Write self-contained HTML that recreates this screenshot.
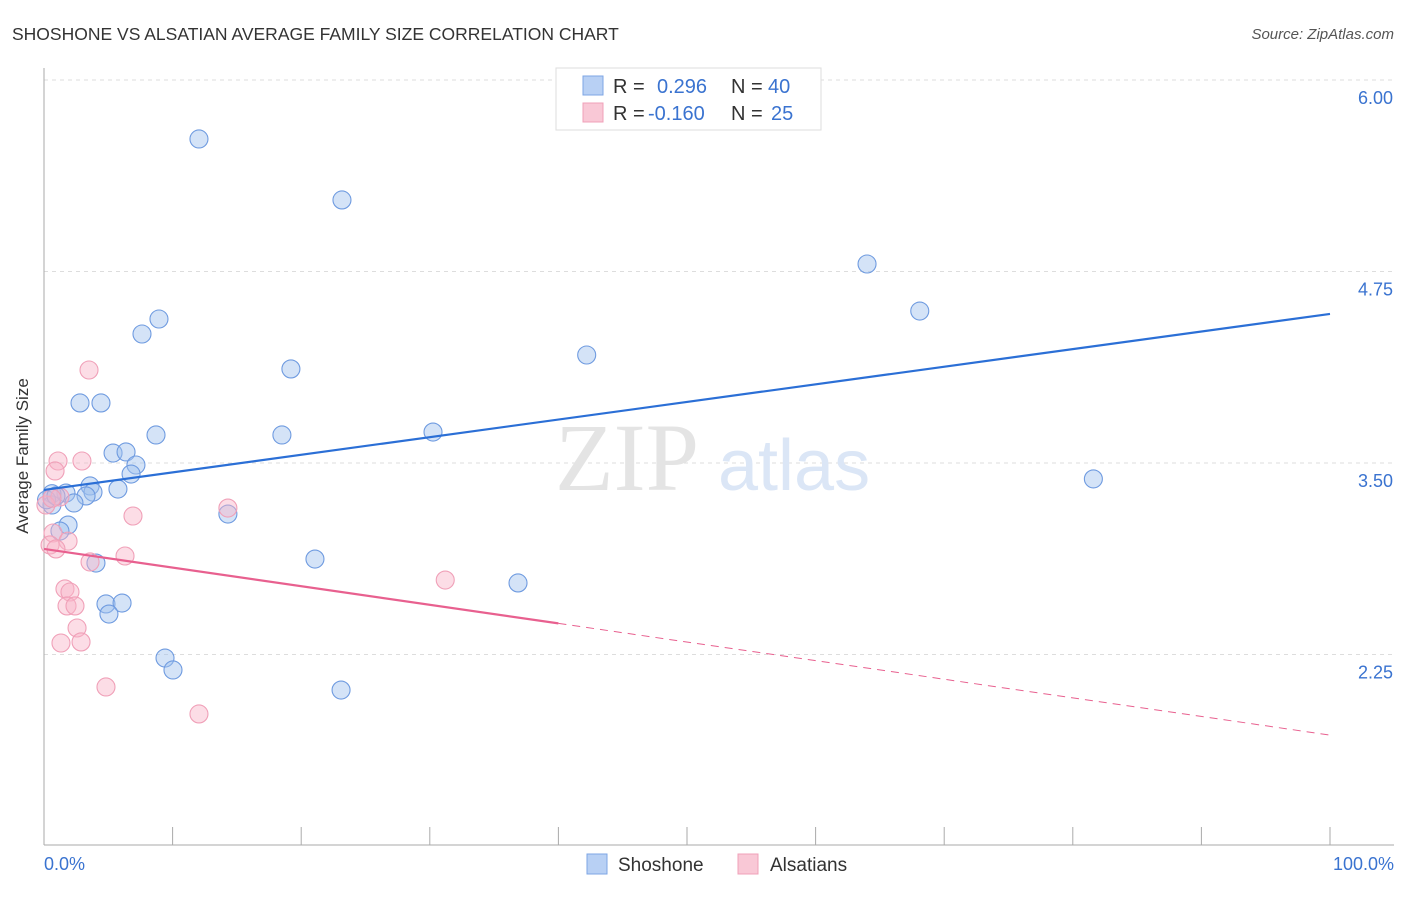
<!DOCTYPE html>
<html><head><meta charset="utf-8"><style>
body{margin:0;background:#fff;font-family:"Liberation Sans",sans-serif}
</style></head><body>
<svg width="1406" height="892" xmlns="http://www.w3.org/2000/svg" font-family="Liberation Sans, sans-serif">
<text x="12" y="40" font-size="17.5" fill="#333">SHOSHONE VS ALSATIAN AVERAGE FAMILY SIZE CORRELATION CHART</text>
<text x="1394" y="39" font-size="15" fill="#555" text-anchor="end" font-style="italic">Source: ZipAtlas.com</text>
<g id="grid"></g>
<text x="555" y="490" font-size="96" fill="#e4e4e4" font-family="Liberation Serif, serif">ZIP</text>
<text x="718" y="490" font-size="72" fill="#dbe6f6">atlas</text>
<line x1="44" y1="68" x2="44" y2="845" stroke="#aaa"/>
<line x1="44" y1="845" x2="1394" y2="845" stroke="#aaa"/>
<g id="ticks"></g>
<g id="ylabels"></g>
<text x="28" y="456" font-size="17" fill="#333" text-anchor="middle" transform="rotate(-90 28 456)">Average Family Size</text>
<text x="44" y="870" font-size="18" fill="#3a73d0">0.0%</text>
<text x="1394" y="870" font-size="18" fill="#3a73d0" text-anchor="end">100.0%</text>
<g id="pts"></g>
<g id="lines"></g>
<g>
<rect x="556" y="68" width="265" height="62" fill="#fff" stroke="#ddd"/>
<rect x="583" y="76" width="20" height="19" fill="#b8d0f4" stroke="#7ea6e4"/>
<rect x="583" y="103" width="20" height="19" fill="#f9c8d6" stroke="#f0a0b8"/>
<g font-size="20">
<text x="613" y="93" fill="#333">R =</text>
<text x="657" y="93" fill="#3a73d0">0.296</text>
<text x="731" y="93" fill="#333">N =</text>
<text x="768" y="93" fill="#3a73d0">40</text>
<text x="613" y="120" fill="#333">R =</text>
<text x="648" y="120" fill="#3a73d0">-0.160</text>
<text x="731" y="120" fill="#333">N =</text>
<text x="771" y="120" fill="#3a73d0">25</text>
</g>
</g>
<g>
<rect x="587" y="854" width="20" height="20" fill="#b8d0f4" stroke="#7ea6e4"/>
<text x="618" y="871" font-size="19" fill="#333">Shoshone</text>
<rect x="738" y="854" width="20" height="20" fill="#f9c8d6" stroke="#f0a0b8"/>
<text x="770" y="871" font-size="19" fill="#333">Alsatians</text>
</g>
</svg>
<script>
const yTicks=[6.00,4.75,3.50,2.25];
const yTickLabels=["6.00","4.75","3.50","2.25"];
const shoX=[12.05,23.17,64.0,68.1,8.94,7.62,42.2,19.2,2.8,4.43,8.71,18.5,30.25,5.37,6.38,7.15,6.77,81.6,3.58,5.75,3.81,1.71,0.62,3.27,2.33,0.62,14.3,1.87,1.24,4.04,21.07,36.86,4.82,6.07,5.05,9.41,10.03,23.1,0.2,0.93];
const shoY=[5.615,5.217,4.799,4.492,4.44,4.342,4.205,4.114,3.892,3.892,3.683,3.683,3.702,3.565,3.572,3.487,3.428,3.396,3.35,3.33,3.31,3.304,3.30,3.285,3.239,3.226,3.167,3.095,3.056,2.847,2.873,2.717,2.58,2.586,2.514,2.227,2.149,2.018,3.26,3.285];
const alsX=[3.5,1.09,2.95,0.86,1.24,14.3,6.92,0.15,0.7,1.87,0.47,0.93,6.3,3.58,31.2,1.63,2.02,1.79,2.41,2.57,1.32,2.88,4.82,12.05,0.62];
const alsY=[4.107,3.513,3.513,3.448,3.278,3.206,3.154,3.226,3.043,2.99,2.965,2.939,2.893,2.854,2.736,2.678,2.658,2.567,2.567,2.423,2.325,2.332,2.038,1.862,3.27];
const shoTrend=[3.324,4.473];
const alsTrend=[2.939,1.724];
const alsSolidEnd=40;
const NS="http://www.w3.org/2000/svg";
const X=p=>44+p*12.86, Y=v=>463-(v-3.5)*153.2;
function mk(t,a,p){const e=document.createElementNS(NS,t);for(const k in a)e.setAttribute(k,a[k]);p.appendChild(e);return e;}
const grid=document.getElementById('grid'),yl=document.getElementById('ylabels');
yTicks.forEach((v,i)=>{
 const l=mk('line',{x1:44,x2:1394,y1:Y(v),y2:Y(v),stroke:'#ddd','stroke-dasharray':'4,4'},grid);
 
 
 const t=mk('text',{x:1393,y:Y(v)+24,'font-size':18,fill:'#3a73d0','text-anchor':'end'},yl);
 t.textContent=yTickLabels[i];
 
 
});
const tk=document.getElementById('ticks');
for(let p=10;p<=100;p+=10){const l=mk('line',{x1:X(p),x2:X(p),y1:827,y2:845,stroke:'#aaa'},tk);
 
 }
const pts=document.getElementById('pts');
shoX.forEach((x,i)=>{const c=mk('circle',{cx:X(x),cy:Y(shoY[i]),r:9,fill:'rgba(160,192,238,0.45)',stroke:'#6f9be0','stroke-width':1.1},pts);
 
 });
alsX.forEach((x,i)=>{const c=mk('circle',{cx:X(x),cy:Y(alsY[i]),r:9,fill:'rgba(248,180,200,0.45)',stroke:'#f0a0b8','stroke-width':1.1},pts);
 
 });
const ln=document.getElementById('lines');
const b=mk('line',{x1:X(0),y1:Y(shoTrend[0]),x2:X(100),y2:Y(shoTrend[1]),stroke:'#2b6fd6','stroke-width':2.2},ln);


const am=v=>alsTrend[0]+(alsTrend[1]-alsTrend[0])*v/100;
const p1=mk('line',{x1:X(0),y1:Y(am(0)),x2:X(alsSolidEnd),y2:Y(am(alsSolidEnd)),stroke:'#e8608f','stroke-width':2.2},ln);


const p2=mk('line',{x1:X(alsSolidEnd),y1:Y(am(alsSolidEnd)),x2:X(100),y2:Y(am(100)),stroke:'#e8608f','stroke-width':1,'stroke-dasharray':'8,6'},ln);


</script>
</body></html>
